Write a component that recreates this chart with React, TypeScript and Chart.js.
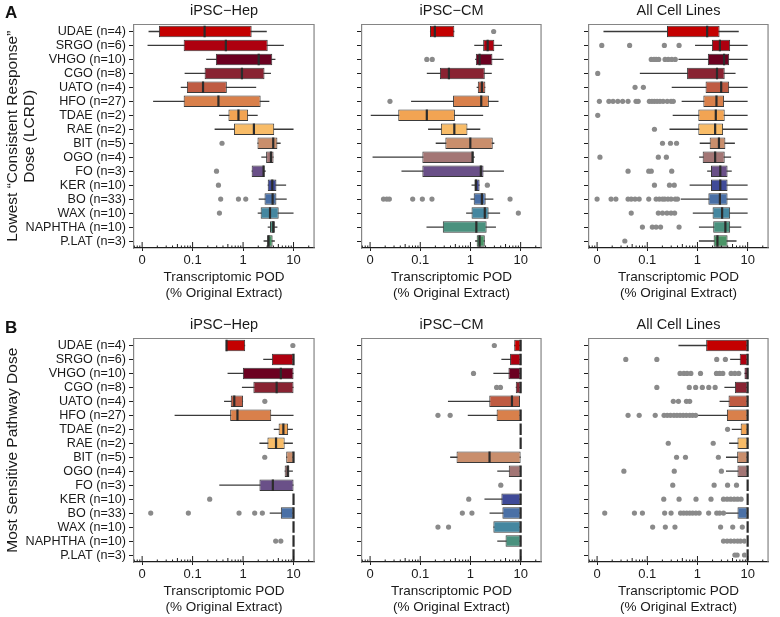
import React, { useEffect, useRef } from 'react';
import { Chart, registerables } from 'chart.js';

Chart.register(...registerables);

const FONT = '"Liberation Sans", Arial, Helvetica, sans-serif';
Chart.defaults.font.family = FONT;

// ---------------- data ----------------
const CATEGORIES = [
  'UDAE (n=4)', 'SRGO (n=6)', 'VHGO (n=10)', 'CGO (n=8)', 'UATO (n=4)', 'HFO (n=27)',
  'TDAE (n=2)', 'RAE (n=2)', 'BIT (n=5)', 'OGO (n=4)', 'FO (n=3)', 'KER (n=10)',
  'BO (n=33)', 'WAX (n=10)', 'NAPHTHA (n=10)', 'P.LAT (n=3)',
];

const BOX_COLORS = [
  '#C40000', '#AE000F', '#6B0020', '#892332', '#BF5B42', '#D9804B', '#F2A453', '#F8BC68',
  '#C98E6C', '#A37675', '#6A5088', '#3F4A98', '#4A70A6', '#4587A0', '#4A917E', '#4A9466',
];

const X_TICK_VALUES = [0.01, 0.1, 1, 10];
const X_TICK_LABELS = ['0', '0.1', '1', '10'];

const PANEL_TITLES = ['iPSC\u2212Hep', 'iPSC\u2212CM', 'All Cell Lines'];
const Y_TITLE_A = ['Lowest \u201CConsistent Response\u201D', 'Dose (LCRD)'];
const Y_TITLE_B = ['Most Sensitive Pathway Dose'];
const X_TITLE = ['Transcriptomic POD', '(% Original Extract)'];

// each row: [whiskerLow, q1, median, q3, whiskerHigh]
const A_HEP_STATS = [
  [0.0134, 0.0215, 0.173, 1.48, 2.95],
  [0.0128, 0.0665, 0.456, 3.08, 6.43],
  [0.186, 0.289, 2.04, 3.79, 4.38],
  [0.0695, 0.173, 0.95, 2.66, 3.57],
  [0.0583, 0.077, 0.161, 0.477, 1.82],
  [0.0165, 0.0665, 0.325, 2.23, 3.32],
  [0.335, 0.513, 0.81, 1.26, 1.95],
  [0.273, 0.659, 1.64, 4.14, 10],
  [1.93, 1.93, 3.96, 4.79, 5.55],
  [2.3, 2.86, 3.57, 4.02, 4.02],
  [1.48, 1.48, 2.55, 2.66, 2.82],
  [3.08, 3.08, 3.79, 4.58, 7.13],
  [2.04, 2.66, 3.85, 4.58, 7.33],
  [1.95, 2.23, 3.42, 5.08, 10],
  [3.08, 3.42, 3.96, 4.26, 4.79],
  [2.55, 3.0, 3.2, 3.85, 4.26],
];
const A_HEP_OUTLIERS = [
  [], [], [], [], [], [], [], [], [0.383], [], [0.298], [0.325], [0.36, 0.81, 1.13], [0.34], [], [],
];

const A_CM_STATS = [
  [0.156, 0.156, 0.195, 0.477, 0.477],
  [1.19, 1.79, 2.2, 2.99, 4.26],
  [1.24, 1.28, 1.52, 2.74, 4.58],
  [0.135, 0.246, 0.372, 1.93, 2.66],
  [1.33, 1.4, 1.69, 1.98, 1.98],
  [0.0656, 0.45, 1.64, 2.33, 3.62],
  [0.0103, 0.0364, 0.135, 0.49, 1.79],
  [0.143, 0.257, 0.477, 0.871, 1.57],
  [0.203, 0.316, 0.993, 2.78, 2.99],
  [0.0112, 0.11, 1.1, 1.16, 1.22],
  [0.0422, 0.11, 1.61, 1.82, 4.65],
  [1.05, 1.2, 1.29, 1.52, 1.52],
  [1.0, 1.16, 1.69, 2.01, 2.86],
  [0.82, 1.05, 1.93, 2.3, 3.9],
  [0.133, 0.281, 1.31, 2.1, 3.22],
  [1.24, 1.33, 1.52, 1.93, 1.93],
];
const A_CM_OUTLIERS = [
  [2.9], [], [0.135, 0.173], [], [], [0.0249], [], [], [], [], [], [2.17],
  [0.0185, 0.0215, 0.0242, 0.0706, 0.11, 0.171, 6.15], [9.0], [], [],
];

const A_ALL_STATS = [
  [0.0134, 0.247, 1.56, 2.76, 6.65],
  [0.895, 1.94, 2.8, 4.48, 10],
  [0.418, 1.61, 3.39, 4.28, 10],
  [0.0711, 0.621, 2.45, 3.49, 5.74],
  [0.307, 1.45, 2.97, 4.28, 10],
  [0.484, 1.31, 2.39, 3.39, 10],
  [0.321, 1.04, 2.32, 3.49, 10],
  [0.277, 1.04, 2.25, 3.24, 10],
  [1.11, 1.75, 2.68, 3.6, 5.57],
  [1.08, 1.27, 2.25, 3.49, 4.68],
  [1.56, 1.86, 2.85, 3.98, 4.82],
  [0.698, 1.86, 2.85, 3.98, 10],
  [0.463, 1.65, 2.8, 3.98, 10],
  [0.807, 2.0, 3.1, 4.48, 10],
  [1.07, 2.06, 3.6, 4.48, 7.48],
  [1.07, 2.1, 2.5, 3.98, 6.0],
];
const A_ALL_OUTLIERS = [
  [],
  [0.0124, 0.0445, 0.219, 0.43],
  [0.12, 0.136, 0.15, 0.169, 0.226, 0.262, 0.307, 0.361],
  [0.0103],
  [0.0571, 0.0836],
  [0.0111, 0.0172, 0.0208, 0.0259, 0.0323, 0.0414, 0.0597, 0.066, 0.11, 0.124, 0.139, 0.157, 0.179, 0.207, 0.25, 0.298, 0.33],
  [0.0103],
  [0.139],
  [0.201, 0.29, 0.383],
  [0.0114, 0.166, 0.24],
  [0.0414, 0.107, 0.12, 0.307],
  [0.139, 0.277, 0.345],
  [0.01, 0.019, 0.0237, 0.0414, 0.0479, 0.0571, 0.069, 0.107, 0.15, 0.174, 0.201, 0.223, 0.258, 0.298, 0.361, 0.4],
  [0.0479, 0.166, 0.201, 0.247, 0.298, 0.351],
  [0.08, 0.126, 0.15, 0.184, 0.43],
  [0.0357],
];

const B_HEP_STATS = [
  [0.458, 0.458, 0.47, 1.1, 1.1],
  [2.51, 3.72, 10, 10, 10],
  [0.493, 0.99, 5.6, 10, 10],
  [0.949, 1.6, 4.63, 10, 10],
  [0.42, 0.57, 0.67, 1.0, 1.0],
  [0.044, 0.555, 0.774, 3.62, 10],
  [4.06, 5.06, 6.29, 7.82, 9.7],
  [2.11, 3.04, 4.5, 6.67, 9.7],
  [7.16, 7.16, 10, 10, 10],
  [6.67, 6.67, 7.7, 8.28, 9.7],
  [0.338, 2.11, 3.89, 10, 10],
  [10, 10, 10, 10, 10],
  [3.37, 5.6, 10, 10, 10],
  [10, 10, 10, 10, 10],
  [10, 10, 10, 10, 10],
  [10, 10, 10, 10, 10],
];
const B_HEP_OUTLIERS = [
  [9.7], [], [], [], [2.7], [], [], [], [2.69], [], [], [0.218],
  [0.0148, 0.0824, 0.832, 1.7, 2.41], [], [4.43, 5.6], [],
];

const B_CM_STATS = [
  [7.44, 7.44, 10, 10, 10],
  [4.13, 6.15, 10, 10, 10],
  [2.86, 5.71, 10, 10, 10],
  [8.0, 8.0, 10, 10, 10],
  [0.356, 2.37, 6.71, 9.7, 9.7],
  [0.884, 3.32, 10, 10, 10],
  [10, 10, 10, 10, 10],
  [10, 10, 10, 10, 10],
  [0.394, 0.528, 2.4, 10, 10],
  [3.42, 5.8, 10, 10, 10],
  [10, 10, 10, 10, 10],
  [1.9, 4.13, 10, 10, 10],
  [2.4, 4.33, 10, 10, 10],
  [2.86, 2.86, 10, 10, 10],
  [3.42, 5.0, 10, 10, 10],
  [10, 10, 10, 10, 10],
];
const B_CM_OUTLIERS = [
  [2.99], [], [1.15], [3.32, 3.96], [], [0.225, 0.394], [], [], [], [], [4.02], [0.925],
  [0.689, 1.07], [0.225, 0.366], [], [],
];

const B_ALL_STATS = [
  [0.418, 1.49, 10, 10, 10],
  [4.48, 6.95, 10, 10, 10],
  [8.65, 8.65, 10, 10, 10],
  [3.44, 5.57, 10, 10, 10],
  [2.76, 4.16, 10, 10, 10],
  [1.0, 3.86, 10, 10, 10],
  [4.82, 7.26, 10, 10, 10],
  [4.28, 6.27, 10, 10, 10],
  [3.7, 6.18, 10, 10, 10],
  [3.7, 6.27, 10, 10, 10],
  [10, 10, 10, 10, 10],
  [10, 10, 10, 10, 10],
  [3.7, 6.27, 10, 10, 10],
  [10, 10, 10, 10, 10],
  [10, 10, 10, 10, 10],
  [10, 10, 10, 10, 10],
];
const B_ALL_OUTLIERS = [
  [],
  [0.0373, 0.155, 2.42, 3.6],
  [0.45, 0.536, 0.621, 0.739, 1.15, 2.39, 2.76, 3.2, 4.68, 5.57, 6.65],
  [0.155, 0.687, 0.92, 1.25, 1.68, 2.25],
  [0.33, 0.418, 0.603, 0.7],
  [0.0414, 0.069, 0.144, 0.216, 0.25, 0.29, 0.34, 0.39, 0.45, 0.52, 0.6, 0.7, 0.8, 0.92],
  [3.98],
  [0.262, 2.06],
  [0.383, 0.577, 2.61],
  [0.0342, 0.345, 3.0],
  [0.322, 2.15, 3.98, 6.0],
  [0.213, 0.43, 0.935, 1.86, 3.3, 3.9, 4.6, 5.4, 6.3, 7.4],
  [0.0142, 0.0555, 0.08, 0.222, 0.298, 0.46, 0.53, 0.61, 0.7, 0.8, 0.93, 1.08, 1.67, 2.42, 2.76, 3.3],
  [0.128, 0.229, 0.356, 2.89, 5.04, 7.82],
  [3.3, 3.9, 4.6, 5.4, 6.3, 7.2, 8.6],
  [5.57, 6.18, 8.65],
];

// ---------------- style / layout ----------------
const TEXT_COLOR = '#1a1a1a';
const LINE_COLOR = '#3a3a3a';
const MEDIAN_COLOR = '#2b2b2b';
const OUTLIER_COLOR = '#8a8a8a';
const FRAME_COLOR = '#858585';
const AXIS_COLOR = '#1e1e1e';
const BOX_H = 11.5;
const X_MIN = 0.0069;
const X_MAX = 25.5;
const X_AXIS_H = 53;
const CANVAS_H = 301;
const ROW_TOPS = [0, 314];
const COLS = [
  { left: 0, width: 322, yWidth: 134, padRight: 1 },
  { left: 330, width: 219, yWidth: 32, padRight: 0.5 },
  { left: 557, width: 219, yWidth: 32, padRight: 0.5 },
];

// log tick positions (axis decoration)
const LOG_TICKS: number[] = [];
for (let e = -3; e <= 1; e++) {
  for (let m = 1; m <= 9; m++) {
    const v = Number((m * Math.pow(10, e)).toPrecision(3));
    if (v >= X_MIN && v <= X_MAX) LOG_TICKS.push(v);
  }
}

const labelIndex = (v: number) => X_TICK_VALUES.findIndex((t) => Math.abs(v / t - 1) < 1e-6);

const decorPlugin = {
  id: 'frameAndLogTicks',
  afterDatasetsDraw(chart: any) {
    const { ctx, chartArea: a } = chart;
    const x = chart.scales.x;
    ctx.save();
    ctx.lineWidth = 1.2;
    ctx.strokeStyle = FRAME_COLOR;
    ctx.beginPath();
    ctx.moveTo(a.left, a.top);
    ctx.lineTo(a.right, a.top);
    ctx.lineTo(a.right, a.bottom);
    ctx.stroke();
    ctx.lineWidth = 1;
    ctx.strokeStyle = AXIS_COLOR;
    for (const v of LOG_TICKS) {
      const px = x.getPixelForValue(v);
      if (px < a.left - 0.5 || px > a.right + 0.5) continue;
      const e = Math.floor(Math.log10(v) + 1e-9);
      const m = Math.round(v / Math.pow(10, e));
      const len = m === 1 ? 6 : m === 5 ? 4 : 2.5;
      ctx.beginPath();
      ctx.moveTo(px, a.bottom);
      ctx.lineTo(px, a.bottom - len);
      ctx.stroke();
    }
    ctx.restore();
  },
};

type PanelSpec = {
  key: string;
  row: number;
  col: number;
  title: string;
  stats: number[][];
  outliers: number[][];
  yTitle?: string[];
};

function buildConfig(spec: PanelSpec) {
  const col = COLS[spec.col];
  const outlierPoints = spec.outliers.flatMap((vals, i) => vals.map((v) => ({ x: v, y: CATEGORIES[i] })));
  const medianPoints = spec.stats.map((s, i) => ({ x: s[2], y: CATEGORIES[i] }));
  return {
    type: 'bar',
    data: {
      labels: CATEGORIES,
      datasets: [
        {
          type: 'bar',
          label: 'whiskers',
          data: spec.stats.map((s) => [s[0], s[4]]),
          backgroundColor: LINE_COLOR,
          borderWidth: 0,
          barThickness: 1.3,
          inflateAmount: 0,
          grouped: false,
          order: 3,
        },
        {
          type: 'bar',
          label: 'boxes',
          data: spec.stats.map((s) => [s[1], s[3]]),
          backgroundColor: BOX_COLORS,
          borderColor: LINE_COLOR,
          borderWidth: 1,
          borderSkipped: false,
          barThickness: BOX_H,
          inflateAmount: 0,
          grouped: false,
          order: 2,
        },
        {
          type: 'scatter',
          label: 'medians',
          data: medianPoints,
          pointStyle: 'line',
          pointRotation: 90,
          pointRadius: BOX_H / 2,
          pointBorderWidth: 2.2,
          pointBorderColor: MEDIAN_COLOR,
          order: 1,
        },
        {
          type: 'scatter',
          label: 'outliers',
          data: outlierPoints,
          pointStyle: 'circle',
          pointRadius: 2.6,
          pointBackgroundColor: OUTLIER_COLOR,
          pointBorderWidth: 0,
          order: 0,
        },
      ],
    },
    options: {
      indexAxis: 'y',
      responsive: false,
      animation: false,
      events: [],
      layout: { padding: { left: 0, right: col.padRight, top: 0, bottom: 0 } },
      plugins: {
        legend: { display: false },
        tooltip: { enabled: false },
        title: {
          display: true,
          text: spec.title,
          fullSize: false,
          color: TEXT_COLOR,
          font: { size: 14.5, weight: 'normal', family: FONT, lineHeight: 1.2 },
          padding: { top: 2, bottom: 5.1 },
        },
      },
      scales: {
        x: {
          type: 'logarithmic',
          min: X_MIN,
          max: X_MAX,
          beginAtZero: false,
          afterBuildTicks: (scale: any) => {
            scale.ticks = LOG_TICKS.map((v) => ({ value: v, major: labelIndex(v) >= 0 }));
          },
          afterFit: (scale: any) => {
            scale.height = X_AXIS_H;
          },
          ticks: {
            autoSkip: false,
            maxRotation: 0,
            minRotation: 0,
            padding: 2,
            color: TEXT_COLOR,
            font: { size: 13, family: FONT },
            callback: (value: any) => {
              const idx = labelIndex(Number(value));
              return idx >= 0 ? X_TICK_LABELS[idx] : '';
            },
          },
          grid: {
            drawOnChartArea: false,
            drawTicks: true,
            tickLength: 3,
            tickWidth: 1,
            tickColor: (ctx: any) =>
              ctx.tick && labelIndex(ctx.tick.value) >= 0 ? AXIS_COLOR : 'rgba(0,0,0,0)',
          },
          border: { display: true, color: AXIS_COLOR, width: 1.2 },
          title: {
            display: true,
            text: X_TITLE,
            color: TEXT_COLOR,
            font: { size: 13.5, family: FONT, lineHeight: 1.15 },
            padding: { top: 0, bottom: 0 },
          },
        },
        y: {
          type: 'category',
          offset: true,
          afterFit: (scale: any) => {
            scale.width = col.yWidth;
          },
          ticks: {
            display: spec.col === 0,
            autoSkip: false,
            padding: 3,
            color: TEXT_COLOR,
            font: { size: 12.6, family: FONT, lineHeight: 1.1 },
          },
          grid: {
            offset: false,
            drawOnChartArea: false,
            drawTicks: true,
            tickLength: 5,
            tickWidth: 1,
            color: AXIS_COLOR,
          },
          border: { display: true, color: FRAME_COLOR, width: 1.2 },
          title: {
            display: !!spec.yTitle,
            text: spec.yTitle || '',
            color: TEXT_COLOR,
            font: { size: 15.5, family: FONT, lineHeight: 1.065 },
            padding: { top: 4.75, bottom: 0 },
          },
        },
      },
    },
    plugins: [decorPlugin],
  };
}

const PANELS: PanelSpec[] = [
  { key: 'a-hep', row: 0, col: 0, title: PANEL_TITLES[0], stats: A_HEP_STATS, outliers: A_HEP_OUTLIERS, yTitle: Y_TITLE_A },
  { key: 'a-cm', row: 0, col: 1, title: PANEL_TITLES[1], stats: A_CM_STATS, outliers: A_CM_OUTLIERS },
  { key: 'a-all', row: 0, col: 2, title: PANEL_TITLES[2], stats: A_ALL_STATS, outliers: A_ALL_OUTLIERS },
  { key: 'b-hep', row: 1, col: 0, title: PANEL_TITLES[0], stats: B_HEP_STATS, outliers: B_HEP_OUTLIERS, yTitle: Y_TITLE_B },
  { key: 'b-cm', row: 1, col: 1, title: PANEL_TITLES[1], stats: B_CM_STATS, outliers: B_CM_OUTLIERS },
  { key: 'b-all', row: 1, col: 2, title: PANEL_TITLES[2], stats: B_ALL_STATS, outliers: B_ALL_OUTLIERS },
];

function BoxPanel({ spec }: { spec: PanelSpec }) {
  const ref = useRef<HTMLCanvasElement | null>(null);
  const col = COLS[spec.col];
  useEffect(() => {
    if (!ref.current) return;
    const chart = new Chart(ref.current, buildConfig(spec) as any);
    return () => chart.destroy();
  }, [spec]);
  return (
    <canvas
      ref={ref}
      width={col.width}
      height={CANVAS_H}
      style={{
        position: 'absolute',
        left: col.left,
        top: ROW_TOPS[spec.row],
        width: col.width,
        height: CANVAS_H,
        display: 'block',
      }}
    />
  );
}

const panelLetter: React.CSSProperties = {
  position: 'absolute',
  left: 5,
  fontFamily: FONT,
  fontWeight: 'bold',
  fontSize: 17,
  lineHeight: '20px',
  color: '#111',
};

export default function App() {
  return (
    <div
      style={{
        position: 'fixed',
        left: 0,
        top: 0,
        width: 780,
        height: 617,
        background: '#ffffff',
        overflow: 'hidden',
      }}
    >
      {PANELS.map((p) => (
        <BoxPanel key={p.key} spec={p} />
      ))}
      <div style={{ ...panelLetter, top: 3 }}>A</div>
      <div style={{ ...panelLetter, top: 318 }}>B</div>
    </div>
  );
}
